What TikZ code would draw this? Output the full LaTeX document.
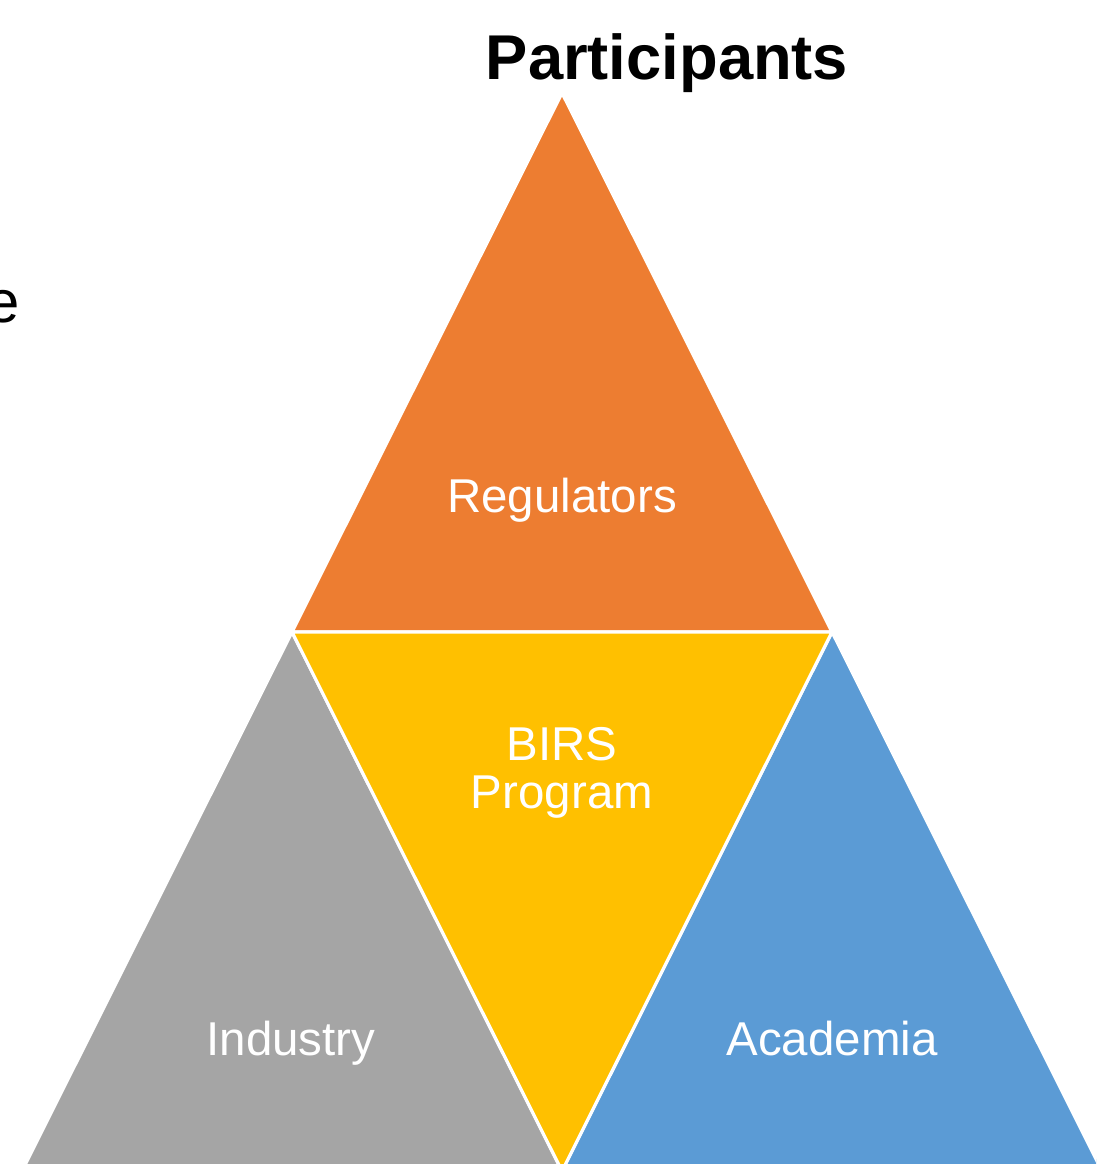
\documentclass[tikz,border=0pt]{standalone}
\usepackage{fontspec}
\setmainfont{Liberation Sans}
\usetikzlibrary{positioning}

\definecolor{regorange}{HTML}{ED7D31}
\definecolor{indgray}{HTML}{A5A5A5}
\definecolor{acablue}{HTML}{5B9BD5}
\definecolor{birsyellow}{HTML}{FFC000}

\begin{document}
\begin{tikzpicture}[x=0.01cm, y=0.01cm]
\tikzstyle{every node}+=[inner sep=0pt]
\tikzstyle{part}=[draw=white, line width=0.9pt, line join=miter]
\tikzstyle{lbl}=[white, font=\fontsize{13.5}{16}\selectfont, align=center]
\useasboundingbox (0,0) rectangle (1096,-1164);
\clip (0,0) rectangle (1096,-1164);
% corners
\coordinate (top) at (562,-93);
\coordinate (lmid) at (292,-632);
\coordinate (rmid) at (832,-632);
\coordinate (bl) at (22,-1171);
\coordinate (bm) at (562,-1171);
\coordinate (br) at (1102,-1171);
% the four parts
\fill [regorange, part] (top) -- (lmid) -- (rmid) -- cycle;
\fill [indgray, part] (lmid) -- (bl) -- (bm) -- cycle;
\fill [acablue, part] (rmid) -- (bm) -- (br) -- cycle;
\fill [birsyellow, part] (lmid) -- (rmid) -- (bm) -- cycle;
% texts
\node (title) [anchor=base, font=\fontsize{18}{21}\bfseries] at (667,-80) {Participants};
\node (cut) [anchor=base east, font=\fontsize{17}{20}\selectfont] at (20,-323) {e};
\node (reg) [lbl, anchor=base] at (562,-512) {Regulators};
\node (birs) [lbl, anchor=base] at (562,-760) {BIRS};
\node (prog) [lbl, anchor=base] at (562,-808) {Program};
\node (ind) [lbl, anchor=base] at (291,-1055) {Industry};
\node (aca) [lbl, anchor=base] at (832,-1055) {Academia};
\end{tikzpicture}
\end{document}
